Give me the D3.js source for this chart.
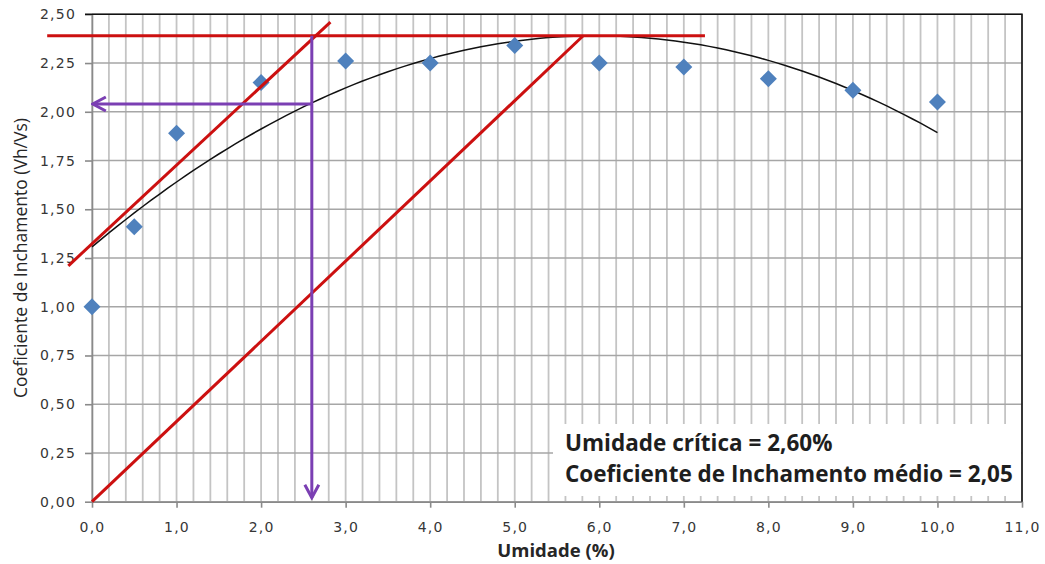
<!DOCTYPE html>
<html>
<head>
<meta charset="utf-8">
<script src="https://cdn.jsdelivr.net/npm/d3@7"></script>
<style>
  html, body { margin: 0; padding: 0; background: #fff; }
  svg { display: block; }
</style>
</head>
<body>
<svg id="chart" width="1045" height="564"></svg>
<script>
// measured points (umidade %, coeficiente de inchamento)
var moisture = [0, 0.5, 1, 2, 3, 4, 5, 6, 7, 8, 9, 10];
var swelling = [1.00, 1.41, 1.89, 2.15, 2.26, 2.25, 2.34, 2.25, 2.23, 2.17, 2.11, 2.05];

var xTicks = [0, 1, 2, 3, 4, 5, 6, 7, 8, 9, 10, 11];
var yTicks = [0, 0.25, 0.5, 0.75, 1, 1.25, 1.5, 1.75, 2, 2.25, 2.5];

// graphical construction
var peakLine = [[-0.53, 2.39], [7.25, 2.39]];
var originLine = [[0, 0], [5.81, 2.39]];
var parallelLine = [[-0.28, 1.21], [2.82, 2.46]];
var criticalArrow = [[2.6, 2.39], [2.6, 0.02]];
var meanArrow = [[2.6, 2.04], [0.01, 2.04]];

var notes = ['Umidade crítica = 2,60%', 'Coeficiente de Inchamento médio = 2,05'];

(function () {
    var svg = d3.select('#chart');
    var pLeft = 92, pRight = 1022, pTop = 14.3, pBottom = 501.7;

    var x = d3.scaleLinear().domain([0, 11]).range([pLeft, pRight]);
    var y = d3.scaleLinear().domain([0, 2.5]).range([pBottom, pTop]);
    var fmt = function (digits) {
        return function (d) { return d.toFixed(digits).replace('.', ','); };
    };

    // grid
    var grid = svg.append('g');
    grid.selectAll('line.v').data(d3.range(0, 56).map(function (i) { return i / 5; }))
        .enter().append('line').attr('class', 'v')
        .attr('x1', function (d) { return x(d); }).attr('x2', function (d) { return x(d); })
        .attr('y1', pTop).attr('y2', pBottom)
        .attr('stroke', '#c4c4c4').attr('stroke-width', 1.8);
    grid.selectAll('line.h').data(yTicks)
        .enter().append('line').attr('class', 'h')
        .attr('x1', pLeft).attr('x2', pRight)
        .attr('y1', function (d) { return y(d); }).attr('y2', function (d) { return y(d); })
        .attr('stroke', '#a6a6a6').attr('stroke-width', 1.6);

    // axes
    var xAxis = svg.append('g').attr('transform', 'translate(0,' + pBottom + ')')
        .call(d3.axisBottom(x).tickValues(xTicks).tickFormat(fmt(1)).tickSize(6).tickSizeOuter(0).tickPadding(14));
    var yAxis = svg.append('g').attr('transform', 'translate(' + pLeft + ',0)')
        .call(d3.axisLeft(y).tickValues(yTicks).tickFormat(fmt(2)).tickSize(7).tickSizeOuter(0).tickPadding(9));
    [xAxis, yAxis].forEach(function (a) {
        a.select('.domain').attr('stroke', '#8a8a8a').attr('stroke-width', 1.6);
        a.selectAll('.tick line').attr('stroke', '#8a8a8a').attr('stroke-width', 1.6);
        a.selectAll('text').attr('fill', '#363636')
            .style('font-family', '"DejaVu Sans", Verdana, sans-serif')
            .style('font-size', '14px').style('letter-spacing', '1.2px');
    });

    // top and right border
    svg.append('path')
        .attr('d', 'M' + (pLeft - 7) + ',' + pTop + 'H' + pRight + 'V' + pBottom)
        .attr('fill', 'none').attr('stroke', '#111').attr('stroke-width', 1.6);

    // annotation box
    svg.append('rect').attr('x', 553).attr('y', 424).attr('width', pRight - 553 - 1).attr('height', 72)
        .attr('fill', '#fff');
    svg.selectAll('text.note').data(notes).enter().append('text')
        .attr('class', 'note')
        .attr('x', 565).attr('y', function (d, i) { return 450.5 + i * 31.5; })
        .attr('fill', '#1e1e1e')
        .style('font-family', '"Open Sans", Lato, sans-serif')
        .style('font-weight', 'bold').style('font-size', '22.5px')
        .text(function (d) { return d; });

    // quadratic trendline (least squares, like the spreadsheet)
    function quadFit(xs, ys) {
        var s = [0, 0, 0, 0, 0], t = [0, 0, 0];
        xs.forEach(function (xv, i) {
            for (var k = 0; k < 5; k++) s[k] += Math.pow(xv, k);
            for (var k2 = 0; k2 < 3; k2++) t[k2] += ys[i] * Math.pow(xv, k2);
        });
        var m = [[s[0], s[1], s[2], t[0]], [s[1], s[2], s[3], t[1]], [s[2], s[3], s[4], t[2]]];
        for (var c = 0; c < 3; c++) {
            for (var r = c + 1; r < 3; r++) {
                var f = m[r][c] / m[c][c];
                for (var j = c; j < 4; j++) m[r][j] -= f * m[c][j];
            }
        }
        var co = [0, 0, 0];
        for (var r2 = 2; r2 >= 0; r2--) {
            var v = m[r2][3];
            for (var j2 = r2 + 1; j2 < 3; j2++) v -= m[r2][j2] * co[j2];
            co[r2] = v / m[r2][r2];
        }
        return function (xv) { return co[0] + co[1] * xv + co[2] * xv * xv; };
    }
    var trend = quadFit(moisture, swelling);
    var trendX = d3.range(0, 101).map(function (i) { return i / 10; });
    var line = d3.line().x(function (d) { return x(d[0]); }).y(function (d) { return y(d[1]); });

    svg.append('path')
        .datum(trendX.map(function (d) { return [d, trend(d)]; }))
        .attr('d', line).attr('fill', 'none').attr('stroke', '#111').attr('stroke-width', 1.5);

    // points
    svg.append('g').selectAll('path').data(moisture).enter().append('path')
        .attr('transform', function (d, i) { return 'translate(' + x(d) + ',' + y(swelling[i]) + ')'; })
        .attr('d', 'M0,-8.5L8.5,0L0,8.5L-8.5,0Z')
        .attr('fill', '#4f81bd');

    // red construction lines
    svg.append('g').selectAll('path').data([peakLine, originLine, parallelLine]).enter().append('path')
        .attr('d', line).attr('fill', 'none').attr('stroke', '#cc1010').attr('stroke-width', 3);

    // purple arrows
    svg.append('defs').append('marker')
        .attr('id', 'head').attr('markerUnits', 'userSpaceOnUse')
        .attr('viewBox', '-16 -9 18 18').attr('refX', 0).attr('refY', 0)
        .attr('markerWidth', 18).attr('markerHeight', 18).attr('orient', 'auto')
        .append('path').attr('d', 'M-13,-7L0,0L-13,7')
        .attr('fill', 'none').attr('stroke', '#7b3fb3').attr('stroke-width', 3);
    svg.append('g').selectAll('path').data([criticalArrow, meanArrow]).enter().append('path')
        .attr('d', line).attr('fill', 'none').attr('stroke', '#7b3fb3').attr('stroke-width', 3)
        .attr('marker-end', 'url(#head)');

    // axis titles
    svg.append('text')
        .attr('x', 556).attr('y', 557).attr('text-anchor', 'middle')
        .attr('fill', '#262626')
        .style('font-family', '"Open Sans", Lato, sans-serif').style('font-weight', 'bold').style('font-size', '18.5px')
        .text('Umidade (%)');
    svg.append('text')
        .attr('transform', 'translate(27,258) rotate(-90)').attr('text-anchor', 'middle')
        .attr('fill', '#262626')
        .style('font-family', '"Open Sans", Lato, sans-serif').style('font-size', '17.5px')
        .text('Coeficiente de Inchamento (Vh/Vs)');
})();
</script>
</body>
</html>
